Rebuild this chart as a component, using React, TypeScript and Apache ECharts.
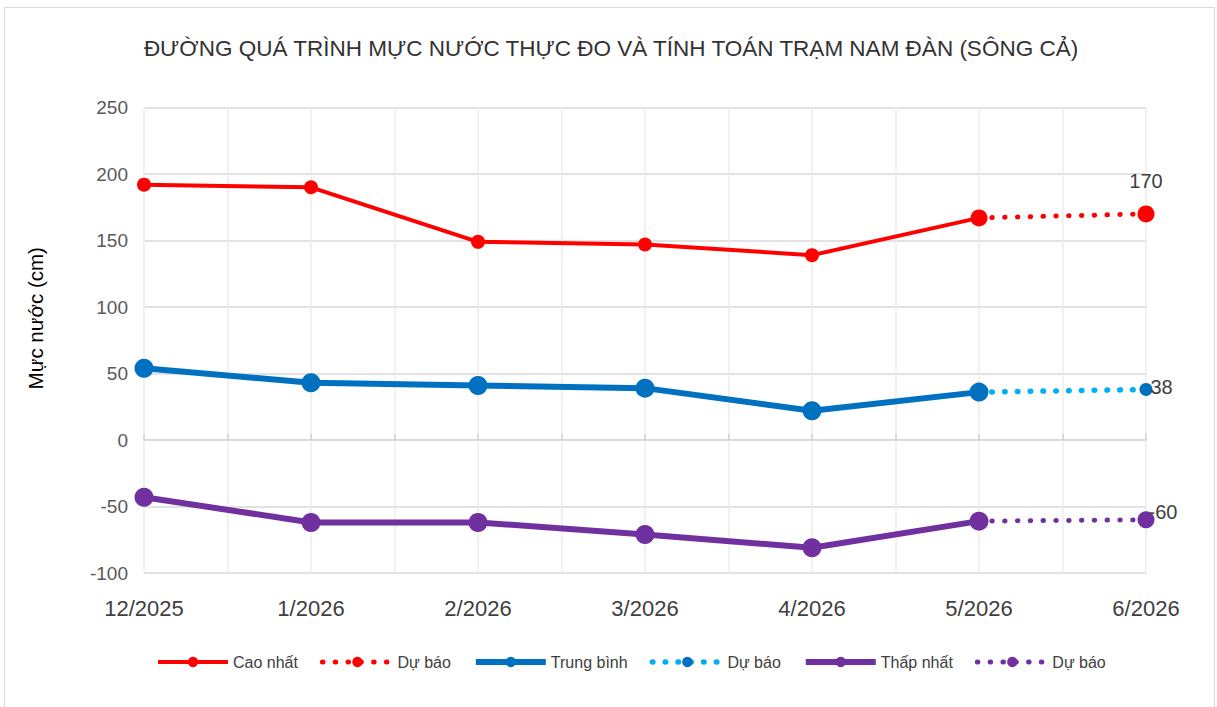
import React, { useEffect, useRef } from "react";
import * as echarts from "echarts";

const categories = ["12/2025", "1/2026", "2/2026", "3/2026", "4/2026", "5/2026", "6/2026"];
const caoNhat = [192, 190, 149, 147, 139, 167];
const caoNhatDuBao = 170;
const trungBinh = [54, 43, 41, 39, 22, 36];
const trungBinhDuBao = 38;
const thapNhat = [-43, -62, -62, -71, -81, -61];
const thapNhatDuBao = -60;
const yTicks = { min: -100, max: 250, step: 50 };

const FONT = "'Liberation Sans', Arial, sans-serif";

const toPoints = (vals: number[]) => vals.map((v, i) => [i, v]);
const forecast = (vals: number[], f: number, label: any) => [
  [vals.length - 1, vals[vals.length - 1]],
  { value: [vals.length, f], label: { show: true, ...label } },
];

export default function App() {
  const ref = useRef<HTMLDivElement>(null);
  useEffect(() => {
    if (!ref.current) return;
    const chart = echarts.init(ref.current, undefined, { renderer: "svg" });
    const dotted = (w: number) => ({ width: w, type: [0.5, 12.3] as any, cap: "round" as any });
    const labelBase = { fontSize: 20, color: "#404040", fontFamily: FONT };
    chart.setOption({
      animation: false,
      backgroundColor: "#fff",
      title: {
        text: "ĐƯỜNG QUÁ TRÌNH MỰC NƯỚC THỰC ĐO VÀ TÍNH TOÁN TRẠM NAM ĐÀN (SÔNG CẢ)",
        left: 606,
        textAlign: "center",
        top: 32,
        textStyle: { fontSize: 22.5, fontWeight: "normal", color: "#333", fontFamily: FONT },
      },
      graphic: [
        {
          type: "rect",
          shape: { x: 4.5, y: 7.5, width: 1210, height: 720 },
          style: { fill: "none", stroke: "#d9d9d9", lineWidth: 1 },
          silent: true,
        },
      ],
      legend: {
        left: 151,
        top: 649,
        itemWidth: 70,
        itemHeight: 13,
        itemGap: 22,
        lineStyle: { width: "inherit" },
        textStyle: { fontSize: 16, color: "#404040", fontFamily: FONT },
        formatter: (name: string) => (name.startsWith("Dự báo") ? "Dự báo" : name),
      },
      grid: { left: 144, right: 71, top: 107.5, bottom: 134 },
      xAxis: [
        {
          type: "value",
          min: 0,
          max: categories.length - 1,
          interval: 1,
          position: "bottom",
          axisLine: { show: false, onZero: false },
          axisTick: { show: false },
          axisLabel: {
            fontSize: 22,
            color: "#404040",
            fontFamily: FONT,
            margin: 24,
            formatter: (v: number) => categories[v] ?? "",
          },
          splitLine: { show: true, lineStyle: { color: "#ececec", width: 1.5 } },
          minorTick: { show: false, splitNumber: 2 },
          minorSplitLine: { show: true, lineStyle: { color: "#ececec", width: 1.5 } },
        },
        {
          type: "value",
          min: 0,
          max: categories.length - 1,
          interval: 0.5,
          position: "bottom",
          axisLine: { show: true, onZero: true, lineStyle: { color: "#d9d9d9", width: 1.5 } },
          axisTick: { show: true, inside: true, length: 6, lineStyle: { color: "#d0d0d0", width: 1.5 } },
          axisLabel: { show: false },
          splitLine: { show: false },
        },
      ],
      yAxis: {
        type: "value",
        min: yTicks.min,
        max: yTicks.max,
        interval: yTicks.step,
        name: "Mực nước (cm)",
        nameLocation: "middle",
        nameGap: 98,
        nameTextStyle: { fontSize: 20.5, color: "#000", fontFamily: FONT, padding: [0, 0, 0, 44] },
        axisLine: { show: false },
        axisTick: { show: false },
        axisLabel: { fontSize: 19, color: "#595959", fontFamily: FONT, margin: 16 },
        splitLine: { lineStyle: { color: "#d9d9d9", width: 1.5 } },
      },
      series: [
        {
          name: "Cao nhất",
          type: "line",
          data: toPoints(caoNhat),
          symbol: "circle",
          symbolSize: 14,
          itemStyle: { color: "#FF0000" },
          lineStyle: { color: "#FF0000", width: 4 },
          z: 3,
        },
        {
          name: "Dự báo cao nhất",
          type: "line",
          data: forecast(caoNhat, caoNhatDuBao, { position: "top", distance: 14, ...labelBase }),
          symbol: "circle",
          symbolSize: 17,
          itemStyle: { color: "#FF0000" },
          lineStyle: { color: "#FF0000", ...dotted(5) },
          label: { show: false },
          z: 4,
        },
        {
          name: "Trung bình",
          type: "line",
          data: toPoints(trungBinh),
          symbol: "circle",
          symbolSize: 19,
          itemStyle: { color: "#0070C0" },
          lineStyle: { color: "#0070C0", width: 6 },
          z: 3,
        },
        {
          name: "Dự báo trung bình",
          type: "line",
          data: forecast(trungBinh, trungBinhDuBao, { position: "right", distance: -2, offset: [0, -2], ...labelBase }),
          symbol: "circle",
          symbolSize: 13,
          itemStyle: { color: "#0070C0" },
          lineStyle: { color: "#00B0F0", ...dotted(5.5) },
          label: { show: false },
          z: 2,
        },
        {
          name: "Thấp nhất",
          type: "line",
          data: toPoints(thapNhat),
          symbol: "circle",
          symbolSize: 19,
          itemStyle: { color: "#7030A0" },
          lineStyle: { color: "#7030A0", width: 6 },
          z: 3,
        },
        {
          name: "Dự báo thấp nhất",
          type: "line",
          data: forecast(thapNhat, thapNhatDuBao, { position: "right", distance: -6, offset: [0, -8], ...labelBase }),
          symbol: "circle",
          symbolSize: 17,
          itemStyle: { color: "#7030A0" },
          lineStyle: { color: "#7030A0", ...dotted(5) },
          label: { show: false },
          z: 2,
        },
      ],
    });
    return () => chart.dispose();
  }, []);
  return (
    <div
      ref={ref}
      style={{ position: "absolute", left: 0, top: 0, width: 1217, height: 707, background: "#fff" }}
    />
  );
}
